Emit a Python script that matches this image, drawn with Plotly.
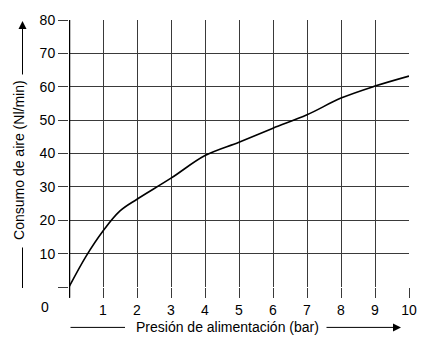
import plotly.graph_objects as go

# Data
pressure_bar = [0, 0.5, 1, 1.5, 2, 3, 4, 5, 6, 7, 8, 9, 10]
air_consumption = [0, 9.2, 16.8, 22.8, 26.3, 32.6, 39.4, 43.4, 47.6, 51.6, 56.6, 60.2, 63.2]

x_ticks = list(range(0, 11))
x_ticktext = [""] + [str(v) for v in range(1, 11)]
y_ticks = list(range(0, 90, 10))
y_ticktext = [""] + [str(v) for v in range(10, 90, 10)]

x_title = "Presión de alimentación (bar)"
y_title = "Consumo de aire (Nl/min)"

W, H = 429, 340
L, R, T, B = 69, 20, 16, 53
PW, PH = W - L - R, H - T - B


def px(xp):
    return (xp - L) / PW


def py(yp):
    return (H - B - yp) / PH


FONT = "Liberation Sans, Arial, sans-serif"
FS = 14

fig = go.Figure()
fig.add_trace(go.Scatter(
    x=pressure_bar, y=air_consumption, mode="lines",
    line=dict(color="black", width=1.6, shape="spline", smoothing=1.0),
    hoverinfo="skip", showlegend=False,
))

grid_col = "#3a3a3a"
fig.update_xaxes(
    range=[0, 10], tickvals=x_ticks, ticktext=x_ticktext,
    showgrid=True, gridcolor=grid_col, gridwidth=1.4,
    ticks="outside", ticklen=10, tickcolor=grid_col, tickwidth=1.4,
    zeroline=False, showline=False,
    tickfont=dict(family=FONT, size=FS, color="black"),
    fixedrange=True,
)
fig.update_yaxes(
    range=[0, 80], tickvals=y_ticks, ticktext=y_ticktext,
    showgrid=True, gridcolor=grid_col, gridwidth=1.4,
    ticks="outside", ticklen=10, tickcolor=grid_col, tickwidth=1.4,
    zeroline=False, showline=False,
    tickfont=dict(family=FONT, size=FS, color="black"),
    fixedrange=True,
)

# thick left axis line at x = 0
fig.add_shape(type="line", xref="x", yref="paper", x0=0, x1=0, y0=py(298), y1=1,
              line=dict(color="black", width=2.5))

ann = []
# origin "0"
ann.append(dict(xref="paper", yref="paper", x=px(45), y=py(307), text="0", showarrow=False,
                font=dict(family=FONT, size=FS, color="black"), xanchor="center", yanchor="middle"))
# x title
ann.append(dict(xref="paper", yref="paper", x=px(227.5), y=py(328), text=x_title, showarrow=False,
                font=dict(family=FONT, size=FS, color="black"), xanchor="center", yanchor="middle"))
# y title
ann.append(dict(xref="paper", yref="paper", x=px(19.5), y=py(158.5), text=y_title, showarrow=False,
                textangle=-90, font=dict(family=FONT, size=FS, color="black"),
                xanchor="center", yanchor="middle"))
# x arrow decorations
ann.append(dict(xref="paper", yref="paper", x=px(125), y=py(328), text="", showarrow=True,
                arrowhead=0, arrowwidth=1, arrowcolor="black", ax=-56, ay=0))
ann.append(dict(xref="paper", yref="paper", x=px(401), y=py(328), text="", showarrow=True,
                arrowhead=2, arrowsize=1.6, arrowwidth=1, arrowcolor="black", ax=-76, ay=0))
# y arrow decorations
ann.append(dict(xref="paper", yref="paper", x=px(22.5), y=py(288), text="", showarrow=True,
                arrowhead=0, arrowwidth=1, arrowcolor="black", ax=0, ay=-42))
ann.append(dict(xref="paper", yref="paper", x=px(22.5), y=py(17), text="", showarrow=True,
                arrowhead=2, arrowsize=1.6, arrowwidth=1, arrowcolor="black", ax=0, ay=55))

fig.update_layout(
    width=W, height=H,
    margin=dict(l=L, r=R, t=T, b=B, pad=0),
    paper_bgcolor="white", plot_bgcolor="white",
    annotations=ann,
    font=dict(family=FONT, size=FS, color="black"),
)

fig.write_html("out.html", config={"displayModeBar": False})
